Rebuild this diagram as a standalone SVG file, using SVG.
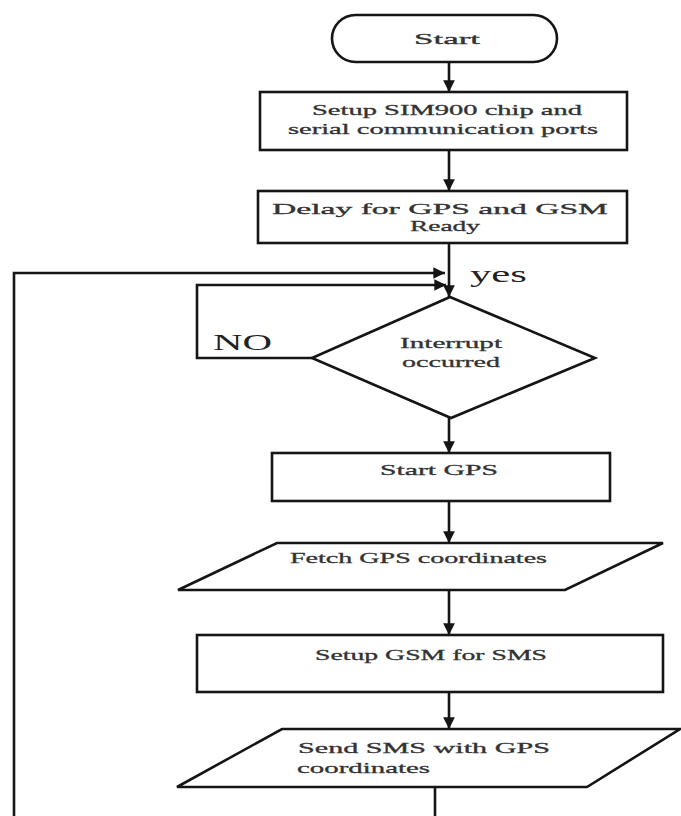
<svg xmlns="http://www.w3.org/2000/svg" width="681" height="816" viewBox="0 0 681 816">
<style>
.shape{fill:#fff;stroke:#151515;stroke-width:2.6}
.line{fill:none;stroke:#151515;stroke-width:2.6}
.t{font-family:"Liberation Serif","DejaVu Serif",serif;font-size:15px;fill:#333;stroke:#333;stroke-width:0.3;dominant-baseline:central}
.c{text-anchor:middle}
.big{font-size:23px;fill:#222;stroke:none}
</style>
<defs>
<marker id="ah" viewBox="0 0 10 10" refX="10" refY="5" markerWidth="4.5" markerHeight="4.5" orient="auto" markerUnits="strokeWidth">
<path d="M0,0 L10,5 L0,10 z" fill="#151515"/>
</marker>
</defs>
<rect width="681" height="816" fill="#fff"/>
<g id="connectors">
<line class="line" x1="449" y1="62" x2="449" y2="92" marker-end="url(#ah)"/>
<line class="line" x1="449" y1="150" x2="449" y2="191" marker-end="url(#ah)"/>
<line class="line" x1="449" y1="243" x2="449" y2="297" marker-end="url(#ah)"/>
<polyline class="line" points="14,816 14,273 445,273" marker-end="url(#ah)"/>
<polyline class="line" points="312,358 197,358 197,285 446,285" marker-end="url(#ah)"/>
<line class="line" x1="449" y1="418" x2="449" y2="453" marker-end="url(#ah)"/>
<line class="line" x1="449" y1="501" x2="449" y2="543" marker-end="url(#ah)"/>
<line class="line" x1="449" y1="590" x2="449" y2="635" marker-end="url(#ah)"/>
<line class="line" x1="449" y1="692" x2="449" y2="729" marker-end="url(#ah)"/>
<line class="line" x1="435" y1="787" x2="435" y2="816"/>
<text class="t big" x="470" y="274" textLength="57" lengthAdjust="spacingAndGlyphs">yes</text>
<text class="t big" x="213" y="342" textLength="59" lengthAdjust="spacingAndGlyphs">NO</text>
</g>
<g id="start">
<rect class="shape" x="332" y="15" width="225" height="47" rx="23.5"/>
<text class="t c" x="447" y="39" textLength="66" lengthAdjust="spacingAndGlyphs">Start</text>
</g>
<g id="setup">
<rect class="shape" x="260" y="92" width="367" height="58"/>
<text class="t" x="312" y="110" textLength="270" lengthAdjust="spacingAndGlyphs">Setup SIM900 chip and</text>
<text class="t" x="288" y="129" textLength="310" lengthAdjust="spacingAndGlyphs">serial communication ports</text>
</g>
<g id="delay">
<rect class="shape" x="258" y="191" width="369" height="52"/>
<text class="t" x="272" y="209" textLength="336" lengthAdjust="spacingAndGlyphs">Delay for GPS and GSM</text>
<text class="t" x="410" y="226" textLength="70" lengthAdjust="spacingAndGlyphs">Ready</text>
</g>
<g id="interrupt">
<polygon class="shape" points="450,297 595,358 451,418 312,358"/>
<text class="t c" x="451" y="343" textLength="102" lengthAdjust="spacingAndGlyphs">Interrupt</text>
<text class="t c" x="451" y="362" textLength="98" lengthAdjust="spacingAndGlyphs">occurred</text>
</g>
<g id="startgps">
<rect class="shape" x="272" y="453" width="338" height="48"/>
<text class="t" x="380" y="470" textLength="118" lengthAdjust="spacingAndGlyphs">Start GPS</text>
</g>
<g id="fetch">
<polygon class="shape" points="277,543 663,543 565,590 178,590"/>
<text class="t" x="290" y="558" textLength="257" lengthAdjust="spacingAndGlyphs">Fetch GPS coordinates</text>
</g>
<g id="setupgsm">
<rect class="shape" x="197" y="635" width="466" height="57"/>
<text class="t" x="315" y="655" textLength="232" lengthAdjust="spacingAndGlyphs">Setup GSM for SMS</text>
</g>
<g id="sendsms">
<polygon class="shape" points="282,729 680,729 587,787 177,787"/>
<text class="t" x="298" y="748" textLength="252" lengthAdjust="spacingAndGlyphs">Send SMS with GPS</text>
<text class="t" x="297" y="768" textLength="133" lengthAdjust="spacingAndGlyphs">coordinates</text>
</g>
</svg>
